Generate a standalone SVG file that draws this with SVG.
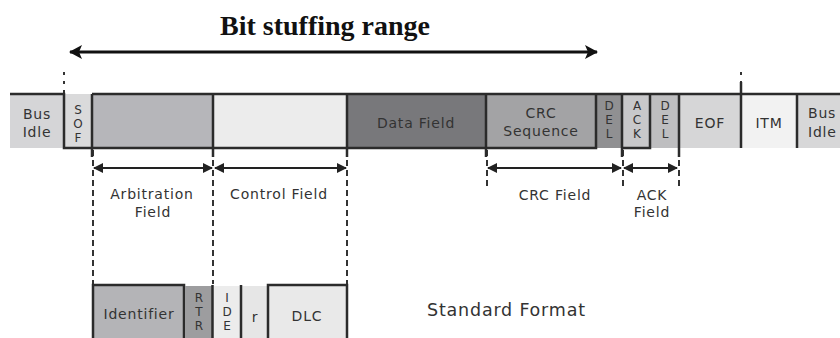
<svg xmlns="http://www.w3.org/2000/svg" width="840" height="338" viewBox="0 0 840 338">
<defs>
<marker id="big" markerUnits="userSpaceOnUse" markerWidth="14" markerHeight="14" refX="12" refY="7" orient="auto-start-reverse" viewBox="0 0 14 14"><path d="M0,0 L13,7 L0,14 L3,7 Z" fill="#111"/></marker>
<marker id="dim" markerUnits="userSpaceOnUse" markerWidth="10" markerHeight="10" refX="9" refY="5" orient="auto-start-reverse" viewBox="0 0 10 10"><path d="M0,0 L10,5 L0,10 Z" fill="#222"/></marker>
<style>
.t{font-family:"DejaVu Sans",Verdana,sans-serif;font-size:14px;fill:#333;letter-spacing:0.8px;text-anchor:middle}
.v{font-family:"DejaVu Sans",Verdana,sans-serif;font-size:12px;fill:#333;text-anchor:middle}
.ln{stroke:#2b2b2b;stroke-width:2.5;fill:none}
.bx{stroke:#2b2b2b;stroke-width:2.5}
.dash{stroke:#333;stroke-width:2;stroke-dasharray:6,4;fill:none}
.dl{stroke:#222;stroke-width:2;fill:none;marker-start:url(#dim);marker-end:url(#dim)}
</style>
</defs>
<text x="325" y="35" font-family="'Liberation Serif','Times New Roman',serif" font-weight="bold" font-size="28" fill="#111" text-anchor="middle">Bit stuffing range</text>
<g id="connectors">
<line x1="70" y1="52" x2="597" y2="52" stroke="#111" stroke-width="3" marker-start="url(#big)" marker-end="url(#big)"/>
<line x1="64" y1="72" x2="64" y2="94" stroke="#333" stroke-width="2" stroke-dasharray="3,6"/>
<line x1="741" y1="72" x2="741" y2="94" stroke="#333" stroke-width="2" stroke-dasharray="3,6"/>
<line class="dl" x1="94" y1="168" x2="212" y2="168"/>
<line class="dl" x1="215" y1="168" x2="346" y2="168"/>
<line class="dl" x1="488" y1="168" x2="621" y2="168"/>
<line class="dl" x1="624" y1="168" x2="677" y2="168"/>
<line class="dash" x1="93" y1="150" x2="93" y2="284"/>
<line class="dash" x1="213" y1="150" x2="213" y2="284"/>
<line class="dash" x1="347" y1="150" x2="347" y2="284"/>
<line class="dash" x1="487" y1="150" x2="487" y2="186"/>
<line class="dash" x1="623" y1="150" x2="623" y2="186"/>
<line class="dash" x1="679" y1="150" x2="679" y2="186"/>
</g>
<g id="bus-idle-left">
<rect x="10" y="94" width="54" height="54" fill="#d5d5d7"/>
<text class="t" x="37" y="119">Bus</text>
<text class="t" x="37" y="137">Idle</text>
</g>
<g id="sof">
<rect x="64" y="94" width="28" height="54" fill="#dadadb"/>
<text class="v" x="78" y="114">S</text>
<text class="v" x="78" y="128">O</text>
<text class="v" x="78" y="142">F</text>
</g>
<g id="arbitration-box"><rect x="92" y="94" width="121" height="54" fill="#b6b6ba"/></g>
<g id="control-box"><rect x="213" y="94" width="134" height="54" fill="#ececec"/></g>
<g id="data-field"><rect x="347" y="94" width="139" height="54" fill="#78787b"/><text class="t" x="416" y="128">Data Field</text></g>
<g id="crc-sequence"><rect x="486" y="94" width="110" height="54" fill="#a3a3a5"/><text class="t" x="541" y="118">CRC</text><text class="t" x="541" y="136">Sequence</text></g>
<g id="crc-del"><rect x="596" y="94" width="26" height="54" fill="#909092"/><text class="v" x="609" y="110">D</text><text class="v" x="609" y="124">E</text><text class="v" x="609" y="138">L</text></g>
<g id="ack"><rect x="622" y="94" width="28" height="54" fill="#c8c8ca"/><text class="v" x="637" y="110">A</text><text class="v" x="637" y="124">C</text><text class="v" x="637" y="138">K</text></g>
<g id="ack-del"><rect x="650" y="94" width="29" height="54" fill="#bebec0"/><text class="v" x="665" y="110">D</text><text class="v" x="665" y="124">E</text><text class="v" x="665" y="138">L</text></g>
<g id="eof"><rect x="679" y="94" width="62" height="54" fill="#d6d6d7"/><text class="t" x="710" y="128">EOF</text></g>
<g id="itm"><rect x="741" y="94" width="56" height="54" fill="#f2f2f2"/><text class="t" x="769" y="128">ITM</text></g>
<g id="bus-idle-right"><rect x="797" y="94" width="43" height="54" fill="#d7d7d8"/><text class="t" x="808" y="118" style="text-anchor:start">Bus</text><text class="t" x="808" y="137" style="text-anchor:start">Idle</text></g>
<g id="waveform">
<path class="ln" d="M10,94 H64 V148 H596 V94 M92,94 H840 M92,94 V157 M213,94 V157 M347,94 V157 M486,94 V157 M622,94 V157 M622,148 H650 V94 M679,94 V157 M741,82 V148 M797,94 V148"/>
</g>
<g id="labels">
<text class="t" x="152" y="199">Arbitration</text>
<text class="t" x="153" y="217">Field</text>
<text class="t" x="279" y="199">Control Field</text>
<text class="t" x="555" y="200">CRC Field</text>
<text class="t" x="652" y="200">ACK</text>
<text class="t" x="652" y="217">Field</text>
</g>
<g id="identifier"><rect class="bx" x="93" y="285" width="91" height="60" fill="#b4b4b7"/><text class="t" x="139" y="319">Identifier</text></g>
<g id="rtr"><rect x="185" y="286" width="27" height="60" fill="#9d9d9f"/><text class="v" x="199" y="302">R</text><text class="v" x="199" y="316">T</text><text class="v" x="199" y="330">R</text></g>
<g id="ide"><rect x="213" y="286" width="28" height="60" fill="#ececec"/><text class="v" x="227" y="302">I</text><text class="v" x="227" y="316">D</text><text class="v" x="227" y="330">E</text></g>
<g id="r"><rect x="241" y="286" width="27" height="60" fill="#e6e6e6"/><text class="t" x="255" y="322">r</text></g>
<g id="dlc"><rect class="bx" x="268" y="285" width="79" height="60" fill="#e9e9e9"/><text class="t" x="307" y="321">DLC</text></g>
<path class="ln" d="M212.5,285 V345 M241,285 V345"/>
<g id="standard-format"><text x="427" y="316" font-family="'DejaVu Sans',Verdana,sans-serif" font-size="17.5" fill="#333" letter-spacing="0.8">Standard Format</text></g>
</svg>
